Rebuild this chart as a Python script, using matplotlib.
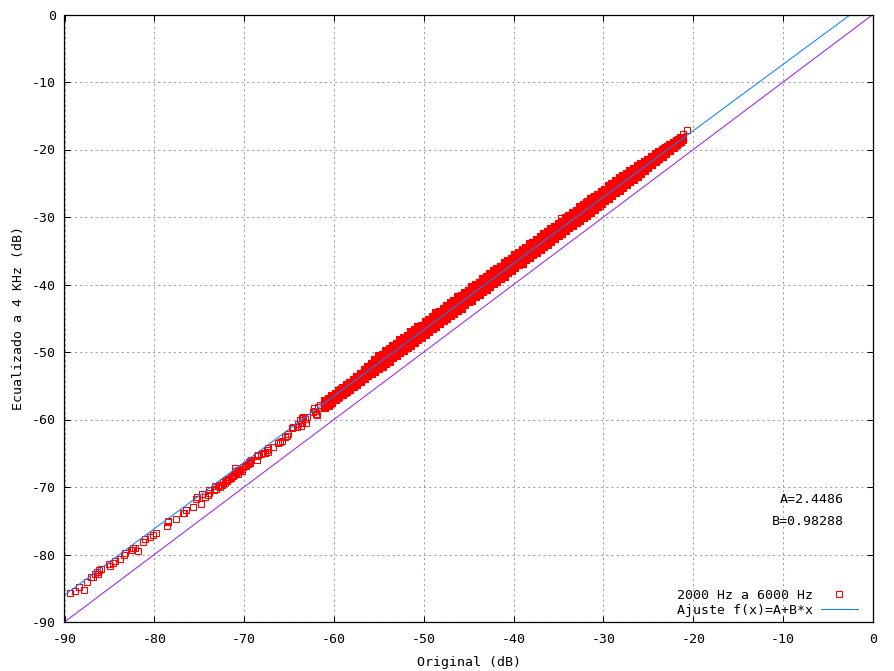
import numpy as np
import matplotlib
matplotlib.use('Agg')
import matplotlib.pyplot as plt
from matplotlib.lines import Line2D

plt.rcParams['font.family'] = ['DejaVu Sans Mono']
plt.rcParams['axes.unicode_minus'] = False

# Fit parameters shown on the chart
fit_A = 2.4486
fit_B = 0.98288

# Sparse points at the low end and scattered outliers
sparse_x = [-89.35, -88.8, -88.35, -87.8, -87.46, -87.0, -86.8, -86.57, -86.35, -86.13,
            -85.9, -86.24, -85.0, -84.9, -84.57, -84.35, -83.8, -83.34, -83.23, -82.56,
            -82.34, -82.1, -82.45, -81.8, -81.23, -81.0, -80.45, -80.1, -79.8, -78.56,
            -78.44, -78.44, -77.55, -76.77, -76.66, -76.44, -75.66, -75.33, -75.2, -74.77,
            -74.66, -74.33, -74.0, -73.9, -73.9, -73.32, -73.21, -73.1, -72.77, -72.66,
            -72.43, -72.32, -72.1, -71.88, -71.65, -71.43, -71.2, -71.1, -70.99, -70.88,
            -70.65, -70.65, -70.43, -70.2, -69.87, -69.76, -69.54, -69.43, -69.32, -69.2,
            -68.54, -68.54, -68.1, -67.87, -67.65, -67.3,
            -72.88, -72.58, -72.02, -71.77, -71.5, -71.02, -70.76, -70.54, -70.28, -70.1,
            -69.8, -69.35, -68.43, -67.5, -67.31, -66.76, -66.2, -66.0, -65.82, -65.45,
            -65.26, -65.08, -64.71, -64.53, -64.15, -63.97, -63.78, -63.6, -63.42, -63.12,
            -63.04, -63.7, -63.23, -63.6, -62.22, -62.0, -62.1, -62.37, -61.74, -61.56,
            -61.0, -60.63, -60.44, -59.78, -59.4, -61.9,
            -20.67, -21.11, -21.11, -28.24, -32.06, -31.13, -30.2, -31.8, -32.25, -34.76, -30.4]
sparse_y = [-85.75, -85.45, -84.8, -85.3, -84.1, -83.3, -83.3, -82.9, -82.6, -82.3,
            -82.1, -82.9, -81.4, -81.66, -81.3, -81.0, -80.7, -80.1, -79.8, -79.3,
            -79.1, -79.1, -79.4, -79.5, -78.15, -77.75, -77.45, -77.1, -76.85, -75.8,
            -75.2, -75.0, -74.8, -73.9, -73.8, -73.45, -73.0, -71.8, -71.5, -72.56,
            -71.1, -71.5, -71.2, -70.5, -70.9, -70.5, -69.9, -70.3, -69.7, -70.0,
            -69.7, -69.3, -69.4, -69.1, -68.8, -68.7, -68.4, -68.2, -67.2, -67.95,
            -67.5, -68.1, -67.5, -67.6, -66.9, -66.7, -66.6, -66.3, -66.1, -66.0,
            -65.4, -66.0, -65.1, -65.0, -64.9, -64.8,
            -69.85, -69.7, -68.96, -68.77, -68.47, -67.63, -67.73, -67.6, -67.33, -67.0,
            -66.9, -66.4, -65.26, -64.5, -64.27, -64.03, -63.44, -63.28, -63.14, -62.64,
            -62.44, -62.2, -61.3, -61.07, -61.16, -60.67, -60.07, -59.83, -59.58, -60.47,
            -59.67, -61.0, -59.97, -60.56, -58.34, -59.19, -58.7, -58.84, -58.1, -57.85,
            -57.36, -57.1, -57.7, -56.7, -56.1, -59.33,
            -17.16, -17.7, -18.2, -24.1, -28.0, -27.0, -26.25, -27.6, -28.07, -30.2, -28.37]

# Dense band of points: two sets of x positions, several rows of y across the band
band_x = [-61.0, -60.6, -60.2, -59.8, -59.4, -59.0, -58.6, -58.2, -57.8, -57.4,
          -57.0, -56.6, -56.2, -55.8, -55.4, -55.0, -54.6, -54.2, -53.8, -53.4,
          -53.0, -52.6, -52.2, -51.8, -51.4, -51.0, -50.6, -50.2, -49.8, -49.4,
          -49.0, -48.6, -48.2, -47.8, -47.4, -47.0, -46.6, -46.2, -45.8, -45.4,
          -45.0, -44.6, -44.2, -43.8, -43.4, -43.0, -42.6, -42.2, -41.8, -41.4,
          -41.0, -40.6, -40.2, -39.8, -39.4, -39.0, -38.6, -38.2, -37.8, -37.4,
          -37.0, -36.6, -36.2, -35.8, -35.4, -35.0, -34.6, -34.2, -33.8, -33.4,
          -33.0, -32.6, -32.2, -31.8, -31.4, -31.0, -30.6, -30.2, -29.8, -29.4,
          -29.0, -28.6, -28.2, -27.8, -27.4, -27.0, -26.6, -26.2, -25.8, -25.4,
          -25.0, -24.6, -24.2, -23.8, -23.4, -23.0, -22.6, -22.2, -21.8, -21.4]
band_y_upper = [-57.31, -56.96, -56.47, -56.23, -55.71, -55.36, -54.87, -54.64, -54.11, -53.77,
                -53.28, -52.73, -52.24, -51.75, -51.15, -50.66, -50.42, -49.82, -49.55, -49.09,
                -48.82, -48.23, -47.96, -47.61, -47.09, -46.80, -46.34, -46.09, -45.50, -45.21,
                -44.86, -44.27, -44.01, -43.68, -43.14, -42.80, -42.47, -41.91, -41.65, -41.19,
                -40.92, -40.37, -40.04, -39.72, -39.16, -38.92, -38.44, -37.95, -37.72, -37.39,
                -36.85, -36.51, -36.18, -35.65, -35.38, -34.90, -34.64, -34.05, -33.78, -33.43,
                -32.92, -32.57, -32.28, -31.72, -31.43, -30.97, -30.68, -30.12, -29.87, -29.43,
                -29.14, -28.59, -28.28, -27.93, -27.39, -27.07, -26.78, -26.25, -25.94, -25.45,
                -25.18, -24.71, -24.42, -23.96, -23.68, -23.21, -22.92, -22.45, -22.16, -21.82,
                -21.50, -21.18, -20.74, -20.44, -20.00, -19.71, -19.36, -19.02, -18.68, -18.33]
band_y_mid_hi = [-57.66, -57.33, -56.84, -56.58, -56.11, -55.64, -55.35, -54.91, -54.44, -54.15,
                 -53.63, -53.13, -52.64, -52.18, -51.70, -51.36, -50.87, -50.54, -50.11, -49.82,
                 -49.29, -48.95, -48.61, -48.08, -47.79, -47.36, -47.04, -46.54, -46.20, -45.89,
                 -45.35, -45.04, -44.61, -44.28, -43.76, -43.45, -43.10, -42.63, -42.29, -41.81,
                 -41.48, -41.15, -40.64, -40.30, -39.95, -39.44, -39.12, -38.78, -38.30, -37.96,
                 -37.53, -37.21, -36.70, -36.37, -36.04, -35.55, -35.21, -34.75, -34.40, -34.06,
                 -33.56, -33.24, -32.81, -32.49, -32.00, -31.65, -31.30, -30.83, -30.47, -30.14,
                 -29.63, -29.31, -28.88, -28.56, -28.06, -27.72, -27.37, -26.89, -26.56, -26.13,
                 -25.81, -25.36, -24.99, -24.64, -24.18, -23.83, -23.48, -23.02, -22.71, -22.28,
                 -21.92, -21.58, -21.12, -20.79, -20.37, -20.04, -19.66, -19.25, -18.93, -18.50]
band_y_mid_lo = [-57.96, -57.66, -57.20, -56.91, -56.43, -55.99, -55.70, -55.24, -54.88, -54.42,
                 -54.08, -53.60, -53.17, -52.85, -52.35, -52.01, -51.54, -51.20, -50.73, -50.44,
                 -49.98, -49.63, -49.16, -48.82, -48.47, -48.00, -47.67, -47.19, -46.86, -46.53,
                 -46.04, -45.70, -45.23, -44.93, -44.48, -44.13, -43.65, -43.32, -42.99, -42.49,
                 -42.16, -41.69, -41.39, -40.94, -40.59, -40.12, -39.78, -39.45, -38.96, -38.62,
                 -38.15, -37.86, -37.40, -37.05, -36.58, -36.24, -35.91, -35.42, -35.08, -34.61,
                 -34.32, -33.86, -33.51, -33.04, -32.71, -32.37, -31.88, -31.55, -31.07, -30.78,
                 -30.33, -29.97, -29.50, -29.17, -28.83, -28.34, -28.01, -27.53, -27.24, -26.79,
                 -26.44, -25.96, -25.63, -25.20, -24.86, -24.39, -24.04, -23.58, -23.23, -22.78,
                 -22.40, -21.95, -21.59, -21.14, -20.79, -20.34, -19.91, -19.55, -19.10, -18.68]
band_y_lower = [-58.26, -57.96, -57.50, -57.15, -56.68, -56.42, -55.95, -55.61, -55.14, -54.87,
                -54.40, -54.06, -53.59, -53.32, -52.95, -52.49, -52.22, -51.74, -51.41, -50.92,
                -50.66, -50.17, -49.84, -49.36, -49.07, -48.62, -48.17, -47.91, -47.42, -47.09,
                -46.61, -46.32, -45.87, -45.41, -45.16, -44.67, -44.33, -43.86, -43.57, -43.11,
                -42.66, -42.41, -41.91, -41.58, -41.11, -40.82, -40.36, -39.91, -39.66, -39.16,
                -38.83, -38.36, -38.06, -37.61, -37.16, -36.90, -36.41, -36.08, -35.60, -35.31,
                -34.86, -34.40, -34.15, -33.66, -33.33, -32.85, -32.56, -32.11, -31.65, -31.40,
                -30.91, -30.57, -30.10, -29.81, -29.35, -28.90, -28.59, -28.13, -27.69, -27.37,
                -26.92, -26.46, -26.15, -25.66, -25.30, -24.84, -24.50, -24.00, -23.63, -23.17,
                -22.74, -22.28, -21.92, -21.44, -21.07, -20.61, -20.16, -19.72, -19.28, -18.83]

band_x2 = [-60.8, -60.4, -60.0, -59.6, -59.2, -58.8, -58.4, -58.0, -57.6, -57.2,
           -56.8, -56.4, -56.0, -55.6, -55.2, -54.8, -54.4, -54.0, -53.6, -53.2,
           -52.8, -52.4, -52.0, -51.6, -51.2, -50.8, -50.4, -50.0, -49.6, -49.2,
           -48.8, -48.4, -48.0, -47.6, -47.2, -46.8, -46.4, -46.0, -45.6, -45.2,
           -44.8, -44.4, -44.0, -43.6, -43.2, -42.8, -42.4, -42.0, -41.6, -41.2,
           -40.8, -40.4, -40.0, -39.6, -39.2, -38.8, -38.4, -38.0, -37.6, -37.2,
           -36.8, -36.4, -36.0, -35.6, -35.2, -34.8, -34.4, -34.0, -33.6, -33.2,
           -32.8, -32.4, -32.0, -31.6, -31.2, -30.8, -30.4, -30.0, -29.6, -29.2,
           -28.8, -28.4, -28.0, -27.6, -27.2, -26.8, -26.4, -26.0, -25.6, -25.2,
           -24.8, -24.4, -24.0, -23.6, -23.2, -22.8, -22.4, -22.0, -21.6, -21.2]
band2_y_hi = [-57.29, -56.95, -56.47, -56.15, -55.70, -55.34, -54.89, -54.58, -54.12, -53.69,
              -53.26, -52.71, -52.24, -51.75, -51.26, -50.79, -50.44, -49.97, -49.68, -49.21,
              -48.87, -48.40, -48.10, -47.65, -47.27, -46.82, -46.54, -46.08, -45.72, -45.26,
              -44.96, -44.50, -44.13, -43.68, -43.39, -42.93, -42.58, -42.11, -41.81, -41.36,
              -40.98, -40.53, -40.25, -39.78, -39.43, -38.97, -38.67, -38.21, -37.84, -37.39,
              -37.10, -36.64, -36.29, -35.82, -35.52, -35.07, -34.69, -34.24, -33.96, -33.49,
              -33.14, -32.68, -32.37, -31.92, -31.55, -31.10, -30.81, -30.35, -30.00, -29.53,
              -29.23, -28.78, -28.40, -27.95, -27.67, -27.20, -26.85, -26.39, -26.08, -25.63,
              -25.28, -24.86, -24.55, -24.10, -23.79, -23.34, -23.02, -22.59, -22.26, -21.84,
              -21.53, -21.11, -20.76, -20.40, -19.99, -19.66, -19.32, -18.97, -18.60, -18.27]
band2_y_mid = [-57.66, -57.24, -56.90, -56.43, -56.10, -55.67, -55.33, -54.86, -54.52, -54.09,
               -53.66, -53.19, -52.71, -52.28, -51.83, -51.38, -51.07, -50.61, -50.27, -49.80,
               -49.47, -49.02, -48.71, -48.25, -47.90, -47.44, -47.11, -46.67, -46.35, -45.89,
               -45.55, -45.08, -44.75, -44.31, -43.99, -43.53, -43.19, -42.72, -42.39, -41.95,
               -41.63, -41.17, -40.83, -40.36, -40.03, -39.59, -39.28, -38.81, -38.47, -38.01,
               -37.67, -37.23, -36.92, -36.45, -36.11, -35.65, -35.31, -34.87, -34.56, -34.09,
               -33.75, -33.29, -32.95, -32.51, -32.20, -31.74, -31.39, -30.93, -30.60, -30.15,
               -29.84, -29.38, -29.03, -28.57, -28.24, -27.79, -27.48, -27.02, -26.67, -26.21,
               -25.88, -25.43, -25.12, -24.66, -24.32, -23.85, -23.52, -23.08, -22.75, -22.30,
               -21.96, -21.51, -21.16, -20.74, -20.37, -19.95, -19.59, -19.17, -18.79, -18.39]
band2_y_lo = [-57.93, -57.60, -57.12, -56.79, -56.36, -56.04, -55.58, -55.24, -54.77, -54.43,
              -54.02, -53.59, -53.25, -52.82, -52.49, -52.03, -51.68, -51.23, -50.91, -50.47,
              -50.11, -49.65, -49.34, -48.89, -48.53, -48.08, -47.77, -47.33, -46.96, -46.51,
              -46.20, -45.74, -45.39, -44.94, -44.62, -44.18, -43.82, -43.36, -43.05, -42.60,
              -42.24, -41.79, -41.48, -41.03, -40.67, -40.22, -39.91, -39.45, -39.10, -38.65,
              -38.33, -37.89, -37.53, -37.07, -36.76, -36.31, -35.95, -35.50, -35.19, -34.74,
              -34.38, -33.93, -33.61, -33.16, -32.81, -32.36, -32.04, -31.60, -31.24, -30.78,
              -30.47, -30.02, -29.66, -29.21, -28.88, -28.44, -28.07, -27.62, -27.26, -26.81,
              -26.46, -26.01, -25.65, -25.20, -24.84, -24.39, -24.02, -23.57, -23.19, -22.76,
              -22.35, -21.91, -21.54, -21.09, -20.70, -20.26, -19.85, -19.41, -18.98, -18.54]

xticks = list(range(-90, 1, 10))
yticks = list(range(-90, 1, 10))

dense_x = np.concatenate([band_x, band_x, band_x, band_x, band_x2, band_x2, band_x2])
dense_y = np.concatenate([band_y_upper, band_y_mid_hi, band_y_mid_lo, band_y_lower,
                          band2_y_hi, band2_y_mid, band2_y_lo])

fig = plt.figure(figsize=(8.95, 6.71), dpi=100)
ax = fig.add_axes([64.5 / 895, 49 / 671, 808.5 / 895, 607.5 / 671])

red = '#ff0000'
blue = '#0a84ff'
purple = '#a020f0'

# overlapping squares in the crowded band merge into a solid strip
ax.plot(dense_x, dense_y, linestyle='none', marker='s', markersize=3.7,
        markerfacecolor='none', markeredgecolor=red, markeredgewidth=1.5,
        antialiased=False, zorder=3)
ax.plot(sparse_x, sparse_y, linestyle='none', marker='s', markersize=3.7,
        markerfacecolor='none', markeredgecolor=red, markeredgewidth=0.75,
        antialiased=False, zorder=3)

line_x = np.array([-90.0, 0.0])
ax.plot(line_x, fit_A + fit_B * line_x, color=blue, lw=0.75, zorder=4)
ax.plot(line_x, line_x, color=purple, lw=0.75, zorder=4)

ax.set_xlim(-90, 0)
ax.set_ylim(-90, 0)
ax.set_xticks(xticks)
ax.set_yticks(yticks)
ax.set_xticklabels([str(t) for t in xticks])
ax.set_yticklabels([str(t) for t in yticks])
ax.tick_params(direction='in', length=4.3, width=0.75, top=True, right=True,
               labelsize=9.5, pad=6)
ax.tick_params(axis='x', pad=8)
ax.grid(True, color='#a0a0a0', linestyle=(0, (2, 3)), linewidth=0.75)
ax.set_axisbelow(True)
for s in ax.spines.values():
    s.set_linewidth(0.9)
    s.set_zorder(5)

ax.set_xlabel('Original (dB)', fontsize=9.5, labelpad=7)
ax.set_ylabel('Ecualizado a 4 KHz (dB)', fontsize=9.5, labelpad=5)

ax.text(-3.25, -71.9, 'A=2.4486', ha='right', va='center', fontsize=9.5)
ax.text(-3.25, -75.05, 'B=0.98288', ha='right', va='center', fontsize=9.5)

handles = [Line2D([], [], linestyle='none', marker='s', markersize=3.7,
                  markerfacecolor='none', markeredgecolor=red, markeredgewidth=0.75),
           Line2D([], [], color=blue, lw=0.75)]
ax.legend(handles, ['2000 Hz a 6000 Hz', 'Ajuste f(x)=A+B*x'], loc='lower right',
          bbox_to_anchor=(0.981, 0.009), frameon=False, markerfirst=False,
          fontsize=9.5, handlelength=2.8, handletextpad=0.6, labelspacing=0.15,
          borderpad=0, borderaxespad=0)

fig.savefig('out.png', dpi=100)
